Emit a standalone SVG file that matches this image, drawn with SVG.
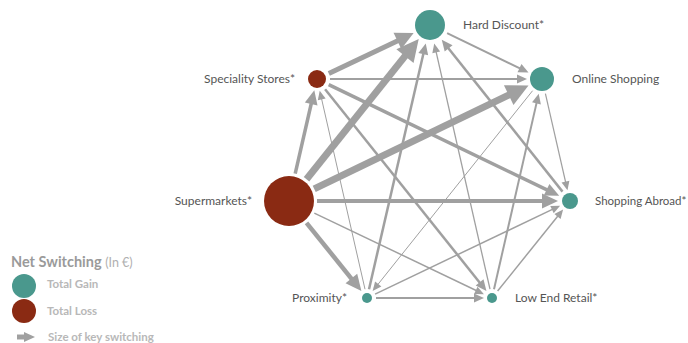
<svg xmlns="http://www.w3.org/2000/svg" width="688" height="343" viewBox="0 0 688 343">
<style>
.e{stroke:#a0a0a0;fill:none;stroke-linecap:butt}
.lbl{font-family:Lato,"Liberation Sans",sans-serif;font-size:12px;fill:#555}
.gain{fill:#4a988d}
.loss{fill:#8a2a13}
.leg{font-family:Lato,"Liberation Sans",sans-serif;font-size:11.5px;font-weight:bold;fill:#b8b8b8}
</style>
<defs>
<marker id="mXL" markerUnits="userSpaceOnUse" markerWidth="22" markerHeight="22" refX="1" refY="11" orient="auto" overflow="visible"><path d="M0,0 L22,11 L0,22 z" fill="#a0a0a0"/></marker>
<marker id="mL" markerUnits="userSpaceOnUse" markerWidth="18" markerHeight="18" refX="1" refY="9" orient="auto" overflow="visible"><path d="M0,0 L18,9 L0,18 z" fill="#a0a0a0"/></marker>
<marker id="mM2" markerUnits="userSpaceOnUse" markerWidth="16" markerHeight="15" refX="1" refY="7.5" orient="auto" overflow="visible"><path d="M0,0 L16,7.5 L0,15 z" fill="#a0a0a0"/></marker>
<marker id="mM1" markerUnits="userSpaceOnUse" markerWidth="14" markerHeight="13" refX="1" refY="6.5" orient="auto" overflow="visible"><path d="M0,0 L14,6.5 L0,13 z" fill="#a0a0a0"/></marker>
<marker id="mS" markerUnits="userSpaceOnUse" markerWidth="11" markerHeight="10" refX="1" refY="5" orient="auto" overflow="visible"><path d="M0,0 L11,5 L0,10 z" fill="#a0a0a0"/></marker>
<marker id="mS2" markerUnits="userSpaceOnUse" markerWidth="10" markerHeight="9" refX="1" refY="4.5" orient="auto" overflow="visible"><path d="M0,0 L10,4.5 L0,9 z" fill="#a0a0a0"/></marker>
<marker id="mXS" markerUnits="userSpaceOnUse" markerWidth="9" markerHeight="8" refX="1" refY="4" orient="auto" overflow="visible"><path d="M0,0 L9,4 L0,8 z" fill="#a0a0a0"/></marker>
</defs>
<rect width="688" height="343" fill="#fff"/>
<g id="connectors">
<line class="e" x1="306.5" y1="179.2" x2="405.6" y2="55.4" stroke-width="7" marker-end="url(#mXL)"/>
<line class="e" x1="314.2" y1="188.8" x2="509.6" y2="94.6" stroke-width="7" marker-end="url(#mXL)"/>
<line class="e" x1="328.8" y1="73.5" x2="398.3" y2="40.4" stroke-width="5" marker-end="url(#mL)"/>
<line class="e" x1="295.2" y1="173.7" x2="311.4" y2="103" stroke-width="3.5" marker-end="url(#mM1)"/>
<line class="e" x1="317" y1="201" x2="543" y2="201" stroke-width="4" marker-end="url(#mM2)"/>
<line class="e" x1="306.5" y1="222.8" x2="352" y2="279.3" stroke-width="4.5" marker-end="url(#mM2)"/>
<line class="e" x1="314.3" y1="213.1" x2="476.7" y2="290.7" stroke-width="1.5" marker-end="url(#mXS)"/>
<line class="e" x1="330" y1="79" x2="518" y2="79" stroke-width="2" marker-end="url(#mS2)"/>
<line class="e" x1="328.7" y1="84.6" x2="547.5" y2="190.2" stroke-width="3.5" marker-end="url(#mM1)"/>
<line class="e" x1="325.1" y1="89.2" x2="480.2" y2="283.2" stroke-width="2.5" marker-end="url(#mS)"/>
<line class="e" x1="447.1" y1="33.2" x2="520.4" y2="68.6" stroke-width="2" marker-end="url(#mS2)"/>
<line class="e" x1="369" y1="289.2" x2="423.5" y2="53.2" stroke-width="2.5" marker-end="url(#mS)"/>
<line class="e" x1="562.5" y1="191.6" x2="448" y2="47.7" stroke-width="2.5" marker-end="url(#mS)"/>
<line class="e" x1="490" y1="289.2" x2="436" y2="51.3" stroke-width="1.3" marker-end="url(#mXS)"/>
<line class="e" x1="545.4" y1="93.6" x2="565.7" y2="182.5" stroke-width="1.2" marker-end="url(#mXS)"/>
<line class="e" x1="532.6" y1="90.7" x2="377.6" y2="284.8" stroke-width="1" marker-end="url(#mXS)"/>
<line class="e" x1="494" y1="289.2" x2="536.7" y2="102.4" stroke-width="2" marker-end="url(#mS2)"/>
<line class="e" x1="375.1" y1="294.1" x2="552.9" y2="209.1" stroke-width="1.5" marker-end="url(#mXS)"/>
<line class="e" x1="497.6" y1="291" x2="558.1" y2="215.8" stroke-width="1.5" marker-end="url(#mXS)"/>
<line class="e" x1="376" y1="298" x2="475" y2="298" stroke-width="2" marker-end="url(#mS2)"/>
<line class="e" x1="365" y1="289.2" x2="321.5" y2="98.5" stroke-width="1" marker-end="url(#mXS)"/>
</g>
<g id="node-hard-discount"><circle class="gain" cx="430" cy="25" r="15"/><text class="lbl" x="463" y="29">Hard Discount*</text></g>
<g id="node-online-shopping"><circle class="gain" cx="542" cy="79" r="12"/><text class="lbl" x="572" y="83">Online Shopping</text></g>
<g id="node-speciality-stores"><circle class="loss" cx="317" cy="79" r="9"/><text class="lbl" x="295" y="83" text-anchor="end">Speciality Stores*</text></g>
<g id="node-supermarkets"><circle class="loss" cx="289" cy="201" r="25"/><text class="lbl" x="252" y="205" text-anchor="end">Supermarkets*</text></g>
<g id="node-shopping-abroad"><circle class="gain" cx="570" cy="201" r="8"/><text class="lbl" x="595" y="205" style="font-size:11.5px">Shopping Abroad*</text></g>
<g id="node-proximity"><circle class="gain" cx="367" cy="298" r="5"/><text class="lbl" x="347" y="302" text-anchor="end">Proximity*</text></g>
<g id="node-low-end-retail"><circle class="gain" cx="492" cy="298" r="5"/><text class="lbl" x="515" y="302">Low End Retail*</text></g>
<g id="legend">
<text x="11" y="267" font-family="Lato,'Liberation Sans',sans-serif" font-size="14.5" font-weight="bold" fill="#9a9a9a">Net Switching <tspan font-size="12.5" font-weight="normal" fill="#b0b0b0">(In €)</tspan></text>
<circle class="gain" cx="24" cy="286" r="12"/>
<text class="leg" x="47" y="288">Total Gain</text>
<circle class="loss" cx="24" cy="311" r="12"/>
<text class="leg" x="47" y="315">Total Loss</text>
<line class="e" x1="17" y1="337" x2="25" y2="337" stroke-width="5" marker-end="url(#mS)"/>
<text class="leg" x="48" y="341">Size of key switching</text>
</g>
</svg>
